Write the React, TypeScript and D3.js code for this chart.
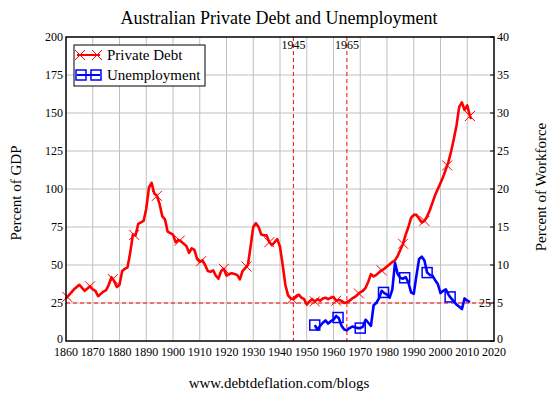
import React from "react";
import * as d3 from "d3";

const debtYears = [1860,1861,1862,1863,1864,1865,1866,1867,1868,1869,1870,1871,1872,1873,1874,1875,1876,1877,1878,1879,1880,1881,1882,1883,1884,1885,1886,1887,1888,1889,1890,1891,1892,1893,1894,1895,1896,1897,1898,1899,1900,1901,1902,1903,1904,1905,1906,1907,1908,1909,1910,1911,1912,1913,1914,1915,1916,1917,1918,1919,1920,1921,1922,1923,1924,1925,1926,1927,1928,1929,1930,1931,1932,1933,1934,1935,1936,1937,1938,1939,1940,1941,1942,1943,1944,1945,1946,1947,1948,1949,1950,1951,1952,1953,1954,1955,1956,1957,1958,1959,1960,1961,1962,1963,1964,1965,1966,1967,1968,1969,1970,1971,1972,1973,1974,1975,1976,1977,1978,1979,1980,1981,1982,1983,1984,1985,1986,1987,1988,1989,1990,1991,1992,1993,1994,1995,1996,1997,1998,1999,2000,2001,2002,2003,2004,2005,2006,2007,2008,2009,2010,2011,2011.5];
const debtValues = [28,30,32,34,35.5,37,35,33,34.5,36,34,33,29.5,31,32.5,33.5,37,42,39.5,35.5,37,46,47.5,48.5,58,70,69.5,77,78,79,87,101,104,97,95.5,90,82,80,72,71,70,65,66.5,65.5,64,62.5,58,61,60,54,52,53,50,46,45.5,46.5,43,41,46,47.5,43,44,44.5,44,43.5,40.5,46,48,50,62,75,77.5,75,70,69.5,69.5,65,63,65,67,62,50,37,30,28,27.5,29,30.5,28.5,27.5,24,26,27.5,26,27.5,26.5,28,28.5,27.5,28.5,29,26.5,27,26.5,25,25.5,26.5,28,29,30.5,32,33,35,39,44,42.5,43.5,45,46.5,47.5,49,50.5,52,53,56,60,64,70,75,81,83,83,80.5,78,79,82,86,91,96,100,104,108,113,118,125,133,142,154,157,152,155,148,146];

const unempYears = [1953,1954,1955,1956,1957,1958,1959,1960,1961,1962,1963,1964,1965,1966,1967,1968,1969,1970,1971,1972,1973,1974,1975,1976,1977,1978,1979,1980,1981,1982,1983,1984,1985,1986,1987,1988,1989,1990,1991,1992,1993,1994,1995,1996,1997,1998,1999,2000,2001,2002,2003,2004,2005,2006,2007,2008,2009,2010,2011];
const unempValues = [2.1,1.5,2.0,2.4,2.7,2.3,2.6,2.8,3.3,3.0,2.0,1.5,1.4,1.7,1.9,1.8,1.7,1.7,1.9,2.8,2.4,2.0,4.7,5.0,5.6,6.6,6.3,6.1,5.7,6.8,10.3,8.8,8.3,8.2,8.4,7.7,6.4,6.2,8.6,10.8,11.1,10.6,9.0,8.7,8.6,8.0,7.5,6.3,6.6,6.8,6.1,5.6,5.2,4.8,4.5,4.2,5.6,5.3,5.1];

const debtMarkerYears = [1860.5,1869,1877.5,1885.5,1894,1902.5,1910.5,1919,1927.5,1936,1944.5,1953,1961,1969.5,1978,1986,1994,2002.5,2011];
const unempMarkerYears = [1953,1961.7,1970,1978.7,1986.6,1995,2003.6];

const xTicks = d3.range(1860, 2021, 10);
const leftTicks = d3.range(0, 201, 25);
const rightTicks = d3.range(0, 41, 5);
const eventYears = [1945, 1965];
const refLevel = 25;

const FONT = "'Liberation Serif', 'Times New Roman', serif";
const W = 555, H = 393;
const M = { left: 66, right: 494, top: 37, bottom: 341 };

function interp(xs: number[], ys: number[], x: number) {
  const i = Math.max(1, Math.min(xs.length - 1, d3.bisectLeft(xs, x)));
  const x0 = xs[i - 1], x1 = xs[i];
  const t = (x - x0) / (x1 - x0);
  return ys[i - 1] + (ys[i] - ys[i - 1]) * t;
}

const T = (props: any) => <text fontFamily={FONT} fill="#000" style={{ fontFamily: FONT }} {...props} />;

const XMark = ({ x, y }: { x: number; y: number }) => (
  <g stroke="#ff0000" strokeWidth={1}>
    <line x1={x - 5} y1={y - 5} x2={x + 5} y2={y + 5} />
    <line x1={x - 5} y1={y + 5} x2={x + 5} y2={y - 5} />
  </g>
);
const SqMark = ({ x, y }: { x: number; y: number }) => (
  <rect x={x - 5} y={y - 5} width={10} height={10} fill="none" stroke="#0000ff" strokeWidth={1.5} />
);

export default function App() {
  const x = d3.scaleLinear().domain([1860, 2020]).range([M.left, M.right]);
  const yL = d3.scaleLinear().domain([0, 200]).range([M.bottom, M.top]);
  const yR = d3.scaleLinear().domain([0, 40]).range([M.bottom, M.top]);

  const debtLine = d3.line<number>().x((_, i) => x(debtYears[i])).y((d) => yL(d));
  const unempLine = d3.line<number>().x((_, i) => x(unempYears[i])).y((d) => yR(d));

  return (
    <svg width={W} height={H} style={{ position: "absolute", left: 0, top: 0, background: "#fff" }}>
      <rect x={0} y={0} width={W} height={H} fill="#fff" />
      <T x={279} y={24} textAnchor="middle" fontSize={18}>Australian Private Debt and Unemployment</T>

      {/* grid */}
      {xTicks.slice(1, -1).map((t) => (
        <line key={"gx" + t} x1={x(t)} x2={x(t)} y1={M.top} y2={M.bottom} stroke="#c0c0c0" strokeWidth={1} />
      ))}
      {leftTicks.slice(1, -1).map((t) => (
        <line key={"gy" + t} x1={M.left} x2={M.right} y1={yL(t)} y2={yL(t)} stroke="#c0c0c0" strokeWidth={1} />
      ))}

      {/* reference lines */}
      {eventYears.map((yr) => (
        <g key={"ev" + yr}>
          <line x1={x(yr)} x2={x(yr)} y1={M.top} y2={M.bottom} stroke="#ff0000" strokeWidth={1} strokeDasharray="4,3" />
          <T x={x(yr)} y={49} textAnchor="middle" fontSize={12}>{yr}</T>
        </g>
      ))}
      <line x1={M.left} x2={M.right} y1={yL(refLevel)} y2={yL(refLevel)} stroke="#ff0000" strokeWidth={1} strokeDasharray="4,3" />
      <T x={491} y={yL(refLevel) + 4} textAnchor="end" fontSize={12}>{refLevel}</T>

      {/* series */}
      <path d={debtLine(debtValues) || ""} fill="none" stroke="#ff0000" strokeWidth={2.6} strokeLinejoin="round" />
      <path d={unempLine(unempValues) || ""} fill="none" stroke="#0000ff" strokeWidth={2.6} strokeLinejoin="round" />
      {debtMarkerYears.map((yr) => (
        <XMark key={"dm" + yr} x={x(yr)} y={yL(interp(debtYears, debtValues, yr))} />
      ))}
      {unempMarkerYears.map((yr) => (
        <SqMark key={"um" + yr} x={x(yr)} y={yR(interp(unempYears, unempValues, yr))} />
      ))}

      {/* frame */}
      <rect x={M.left} y={M.top} width={M.right - M.left} height={M.bottom - M.top} fill="none" stroke="#000" strokeWidth={1.5} />

      {/* left axis */}
      {leftTicks.map((t) => (
        <T key={"lt" + t} x={63} y={yL(t) + (t === 0 ? 2 : 4)} textAnchor="end" fontSize={12}>{t}</T>
      ))}
      {/* right axis */}
      {rightTicks.map((t) => (
        <g key={"rt" + t}>
          <line x1={M.right - 4} x2={M.right} y1={yR(t)} y2={yR(t)} stroke="#000" strokeWidth={1} />
          <T x={497} y={yR(t) + (t === 0 ? 2 : 4)} textAnchor="start" fontSize={12}>{t}</T>
        </g>
      ))}
      {/* bottom axis */}
      {xTicks.map((t) => (
        <T key={"xt" + t} x={x(t)} y={356} textAnchor="middle" fontSize={12}>{t}</T>
      ))}

      <T transform={`translate(21,193) rotate(-90)`} textAnchor="middle" fontSize={15}>Percent of GDP</T>
      <T transform={`translate(546,187) rotate(-90)`} textAnchor="middle" fontSize={15}>Percent of Workforce</T>
      <T x={279} y={388} textAnchor="middle" fontSize={15}>www.debtdeflation.com/blogs</T>

      {/* legend */}
      <rect x={74} y={45} width={131} height={41} fill="#fff" stroke="#000" strokeWidth={1} />
      <line x1={77} x2={100} y1={55} y2={55} stroke="#ff0000" strokeWidth={2} />
      <XMark x={80} y={55} />
      <XMark x={97} y={55} />
      <T x={107} y={60} fontSize={15}>Private Debt</T>
      <line x1={77} x2={100} y1={75} y2={75} stroke="#0000ff" strokeWidth={2} />
      <SqMark x={81} y={75} />
      <SqMark x={96} y={75} />
      <T x={107} y={80} fontSize={15}>Unemployment</T>
    </svg>
  );
}
